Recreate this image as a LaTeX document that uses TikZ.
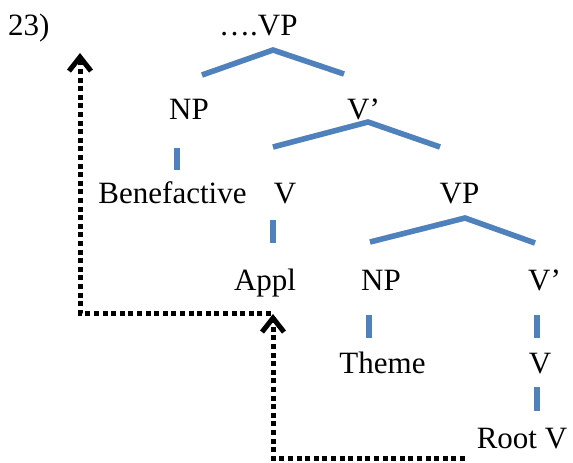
\documentclass[tikz,border=0pt]{standalone}
\usepackage{fontspec}
\setmainfont{Liberation Serif}
\usetikzlibrary{arrows.meta}
\definecolor{branch}{RGB}{79,129,189}
\begin{document}
\begin{tikzpicture}[x=1pt,y=-1pt,
  lbl/.style={font=\fontsize{31}{33}\selectfont, inner sep=0pt, anchor=base},
  branch/.style={draw=branch, line width=5.5pt},
  shade/.style={draw=black!15, line width=5.5pt, shift={(1.5,2.5)}},
  move/.style={draw=black, line width=5pt, dash pattern=on 5pt off 3.6pt,
    -{Straight Barb[length=14pt,width=22pt,line width=5pt]}},
]
\useasboundingbox (0,0) rectangle (573,463);

% labels
\node[lbl, anchor=base west] (num) at (8,35) {23)};
\node[lbl, anchor=base west] (vptop) at (219,35) {….VP};
\node[lbl] (np1) at (189,119) {NP};
\node[lbl, anchor=base west] (vbar1) at (347,119) {V’};
\node[lbl] (ben) at (172.5,203) {Benefactive};
\node[lbl] (v1) at (285,203) {V};
\node[lbl] (vp2) at (459.5,203) {VP};
\node[lbl] (appl) at (265,290) {Appl};
\node[lbl] (np2) at (381,290) {NP};
\node[lbl, anchor=base west] (vbar2) at (528,290) {V’};
\node[lbl] (theme) at (382.5,373) {Theme};
\node[lbl] (v2) at (540,373) {V};
\node[lbl] (root) at (522,448) {Root V};

% branch points
\coordinate (a1) at (273,50);  \coordinate (a1l) at (202,75);  \coordinate (a1r) at (344,74);
\coordinate (a2) at (368,122); \coordinate (a2l) at (273,147); \coordinate (a2r) at (440,147);
\coordinate (a3) at (465,218); \coordinate (a3l) at (370,242); \coordinate (a3r) at (535,243);
\coordinate (t1a) at (177,148); \coordinate (t1b) at (177,170);
\coordinate (t2a) at (273,220); \coordinate (t2b) at (273,243);
\coordinate (t3a) at (369,315); \coordinate (t3b) at (369,338);
\coordinate (t4a) at (537,315); \coordinate (t4b) at (537,338);
\coordinate (t5a) at (537,387); \coordinate (t5b) at (537,411);

% soft shadows under the branches
\foreach \p/\q/\r in {a1l/a1/a1r, a2l/a2/a2r, a3l/a3/a3r}
  \draw[shade] (\p) -- (\q) -- (\r);
\foreach \p/\q in {t1a/t1b, t2a/t2b, t3a/t3b, t4a/t4b, t5a/t5b}
  \draw[shade] (\p) -- (\q);

% branches
\foreach \p/\q/\r in {a1l/a1/a1r, a2l/a2/a2r, a3l/a3/a3r}
  \draw[branch] (\p) -- (\q) -- (\r);
\foreach \p/\q in {t1a/t1b, t2a/t2b, t3a/t3b, t4a/t4b, t5a/t5b}
  \draw[branch] (\p) -- (\q);

% head movement paths
\coordinate (m1s) at (465,458); \coordinate (m1c) at (273,458); \coordinate (m1e) at (273,314);
\coordinate (m2s) at (271,313); \coordinate (m2c) at (80,313);  \coordinate (m2e) at (80,53);
\draw[move] (m1s) -- (m1c) -- (m1e);
\draw[move] (m2s) -- (m2c) -- (m2e);
\end{tikzpicture}
\end{document}
